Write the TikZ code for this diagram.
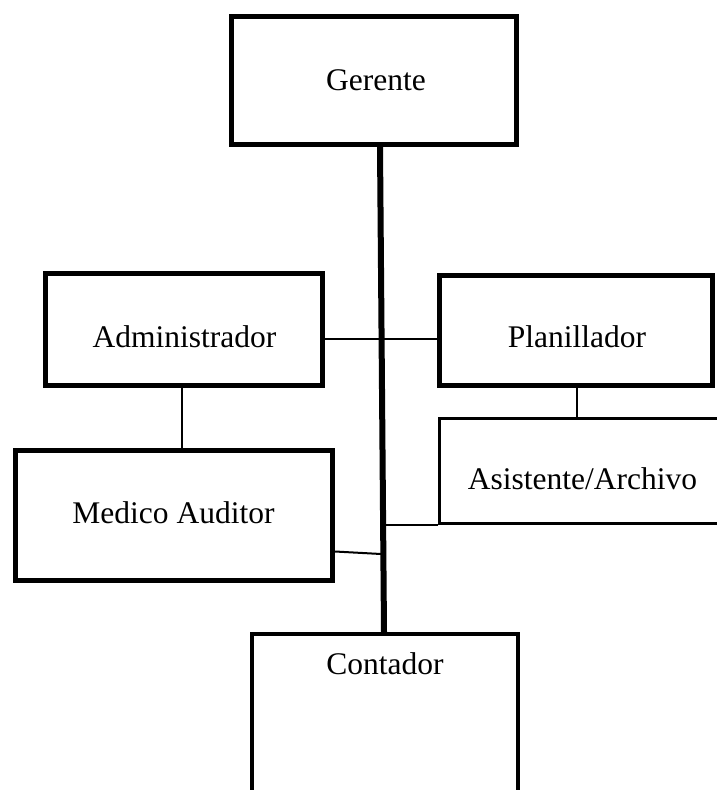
\documentclass[tikz,border=0pt]{standalone}
\usepackage{fontspec}
\setmainfont{Liberation Serif}
\begin{document}
\begin{tikzpicture}[x=1pt,y=-1pt,
  box/.style={draw, rectangle, inner sep=0pt, line width=5pt},
  txt/.style={font=\fontsize{31.5}{38}\selectfont, inner sep=0pt, anchor=base},
  conn/.style={line width=2pt},
  spine/.style={line width=6pt}]
\useasboundingbox (0,0) rectangle (717,790);
\clip (0,0) rectangle (717,790);
% boxes
\node[box, minimum width=285pt, minimum height=128pt] (ger) at (374,80.5) {};
\node[box, minimum width=277pt, minimum height=112pt] (adm) at (184,329.5) {};
\node[box, minimum width=273pt, minimum height=110pt] (pla) at (576,330.5) {};
\node[box, line width=3pt, minimum width=285.5pt, minimum height=105pt] (asi) at (582.25,471) {};
\node[box, minimum width=317pt, minimum height=130pt] (med) at (174,515.5) {};
\node[box, line width=4pt, minimum width=266pt, minimum height=166pt] (con) at (385,717) {};
% texts
\node[txt] (tger) at (376,90) {Gerente};
\node[txt] (tadm) at (184.5,347) {Administrador};
\node[txt] (tpla) at (577,347) {Planillador};
\node[txt] (tasi) at (582.5,489) {Asistente/Archivo};
\node[txt] (tmed) at (173.5,523) {Medico Auditor};
\node[txt] (tcon) at (385,674) {Contador};
% connectors
\draw[spine] ([xshift=6pt]ger.south) -- ([xshift=-1pt]con.north);
\coordinate (yap) at (0,339);
\draw[conn] (adm.east |- yap) -- (pla.west |- yap);
\draw[conn] ([xshift=-2pt]adm.south) -- ([xshift=-2pt]adm.south |- med.north);
\draw[conn] ([xshift=1pt]pla.south) -- ([xshift=1pt]pla.south |- asi.north);
\coordinate (ja) at (384,525);
\draw[conn] (asi.south west) -- (ja);
\coordinate (jm) at (381,554);
\draw[conn] ([yshift=-36pt]med.east) -- (jm);
\end{tikzpicture}
\end{document}
